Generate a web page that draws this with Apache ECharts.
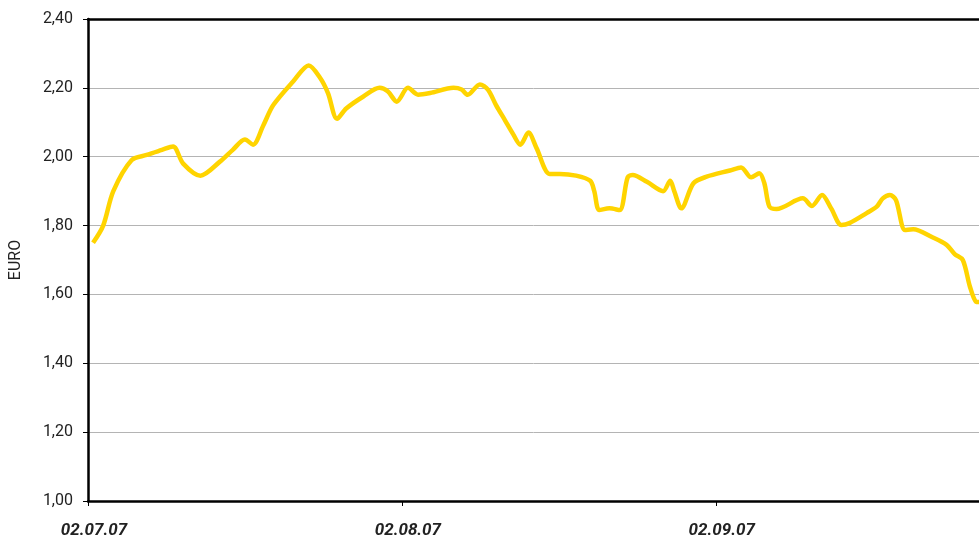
<!DOCTYPE html>
<html>
<head>
<meta charset="utf-8">
<script src="https://cdn.jsdelivr.net/npm/echarts@6/dist/echarts.min.js"></script>
<style>
    html, body { margin: 0; padding: 0; background: #fff; }
    #myChart { width: 979px; height: 543px; }
</style>
</head>
<body>
<div id="myChart"></div>
<script>
// Tage nach dem 02.07.07
var dayOffsets = [0.5, 1.5, 2.5, 4.3, 5.8, 7.3, 8.4, 9.4, 11.1, 13.0, 14.3, 15.5, 16.3, 17.3, 18.3,
    20.3, 21.8, 22.9, 23.7, 24.6, 25.5, 27.2, 28.8, 29.6, 30.5, 31.6, 32.6, 33.8, 36.1, 36.9,
    37.5, 38.7, 39.5, 40.3, 41.2, 42.0, 42.7, 43.5, 44.3, 45.6, 46.6, 48.2, 49.6, 50.0, 50.5,
    51.5, 52.5, 53.3, 53.8, 55.2, 56.8, 57.5, 57.9, 58.6, 59.8, 61.1, 63.4, 64.5, 65.5, 66.3,
    66.8, 67.3, 68.0, 70.6, 71.5, 72.5, 73.4, 74.4, 75.2, 76.9, 77.9, 78.5, 79.2, 79.8, 80.7,
    81.5, 83.4, 84.8, 85.6, 86.4, 87.1, 87.7, 88.0];
var prices = [1.75, 1.80, 1.90, 1.99, 2.005, 2.02, 2.03, 1.98, 1.945, 1.985, 2.02, 2.05, 2.035, 2.09, 2.15,
    2.22, 2.265, 2.23, 2.185, 2.11, 2.14, 2.175, 2.20, 2.19, 2.16, 2.20, 2.18, 2.185, 2.20, 2.195,
    2.18, 2.21, 2.195, 2.15, 2.105, 2.065, 2.035, 2.07, 2.025, 1.95, 1.95, 1.945, 1.93, 1.90, 1.845,
    1.85, 1.845, 1.94, 1.947, 1.927, 1.90, 1.93, 1.90, 1.85, 1.923, 1.942, 1.96, 1.969, 1.94, 1.952,
    1.923, 1.855, 1.848, 1.879, 1.857, 1.889, 1.85, 1.802, 1.807, 1.836, 1.855, 1.879, 1.889, 1.874, 1.787,
    1.789, 1.766, 1.744, 1.717, 1.700, 1.623, 1.579, 1.578];
var startDate = new Date(2007, 6, 2);

function dayLabel(v) {
    var d = new Date(startDate.getTime() + v * 86400000);
    function p(n) { return (n < 10 ? '0' : '') + n; }
    return p(d.getDate()) + '.' + p(d.getMonth() + 1) + '.' + p(d.getFullYear() % 100);
}

var seriesData = [];
for (var i = 0; i < dayOffsets.length; i++) {
    seriesData.push([dayOffsets[i], prices[i]]);
}

var myChart = echarts.init(document.getElementById('myChart'));
var option = {
    animation: false,
    grid: { left: 88, top: 19, right: 0, bottom: 42, containLabel: false, outerBoundsMode: 'none' },
    xAxis: [
        {
            type: 'value',
            min: 0,
            max: 88,
            interval: 31,
            axisLine: { show: true, onZero: false, lineStyle: { color: '#000', width: 2.5 } },
            axisTick: { show: true, length: 5, lineStyle: { color: '#000', width: 1 } },
            splitLine: { show: false },
            axisLabel: {
                margin: 21,
                color: '#222',
                fontFamily: 'Roboto',
                fontSize: 17,
                fontWeight: 'bold',
                fontStyle: 'italic',
                padding: [0, 0, 0, 12],
                showMaxLabel: false,
                formatter: function (v) { return dayLabel(v); }
            }
        },
        {
            type: 'value',
            position: 'top',
            min: 0,
            max: 88,
            axisLine: { show: true, lineStyle: { color: '#000', width: 2.5 } },
            axisTick: { show: false },
            axisLabel: { show: false },
            splitLine: { show: false }
        }
    ],
    yAxis: {
        type: 'value',
        min: 1,
        max: 2.4,
        interval: 0.2,
        name: 'EURO',
        nameLocation: 'middle',
        nameGap: 64,
        nameTextStyle: { color: '#222', fontFamily: 'Roboto', fontSize: 16 },
        axisLine: { show: true, lineStyle: { color: '#000', width: 2.5 } },
        axisTick: { show: true, length: 5, lineStyle: { color: '#000', width: 1 } },
        splitLine: { show: true, lineStyle: { color: '#b4b4b4', width: 1 } },
        axisLabel: {
            margin: 15,
            color: '#222',
            fontFamily: 'Roboto',
            fontSize: 16,
            formatter: function (v) { return v.toFixed(2).replace('.', ','); }
        }
    },
    series: [
        {
            type: 'line',
            data: seriesData,
            smooth: 0.3,
            symbol: 'none',
            clip: true,
            lineStyle: { color: '#FFD400', width: 4.5 }
        }
    ]
};
myChart.setOption(option);
</script>
</body>
</html>
